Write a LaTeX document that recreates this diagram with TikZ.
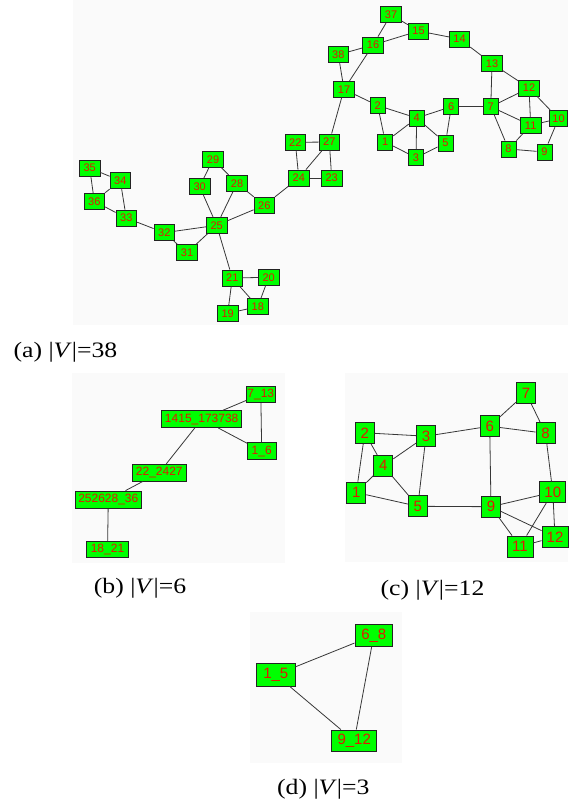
\documentclass[tikz,border=0pt]{standalone}
\usepackage{fontspec}
\usepackage{graphicx}
\setmainfont{Liberation Serif}
\newfontfamily\lsans{Liberation Sans}
\definecolor{ngreen}{RGB}{0,255,0}
\definecolor{nred}{RGB}{225,25,0}
\definecolor{nborder}{RGB}{35,35,35}
\definecolor{edgec}{RGB}{55,55,55}
\definecolor{panelbg}{RGB}{250,250,250}
\tikzset{
  gnode/.style={draw=nborder, fill=ngreen, text=nred, inner sep=0pt, line width=0.9pt},
  an/.style={gnode, minimum width=20.5, minimum height=16, font=\lsans\fontsize{11}{11}\selectfont},
  ans/.style={an, minimum width=15},
  bn/.style={gnode, minimum height=16.7, font=\lsans\fontsize{12}{12}\selectfont},
  cn/.style={gnode, minimum width=19, minimum height=21, font=\lsans\fontsize{15}{15}\selectfont},
  cnd/.style={cn, minimum width=26},
  dn/.style={gnode, minimum height=22.5, font=\lsans\fontsize{15}{15}\selectfont},
  edge/.style={draw=edgec, line width=0.8pt},
  captext/.style={inner sep=0pt, font=\fontsize{22}{22}\selectfont},
  panel/.style={fill=panelbg}
}
\newcommand{\capt}[1]{\scalebox{1.17}[1]{#1}}
\begin{document}
\begin{tikzpicture}[x=1pt,y=-1pt]
\useasboundingbox (0,0) rectangle (568,800);
% panel backgrounds
\fill[panel] (73,0) rectangle (568,325);
\fill[panel] (72,373) rectangle (285,563);
\fill[panel] (345,373) rectangle (568,562);
\fill[panel] (250,612) rectangle (402,763);

% ---------- panel (a) ----------
\node[an]  (a37) at (391,14.7) {37};
\node[an]  (a15) at (418.5,31) {15};
\node[an]  (a14) at (459.5,39) {14};
\node[an]  (a16) at (373,45) {16};
\node[an]  (a38) at (338.3,54.7) {38};
\node[an]  (a13) at (492,63.5) {13};
\node[an]  (a17) at (344,89.3) {17};
\node[an]  (a12) at (529,88) {12};
\node[ans] (a2)  at (377.7,105.5) {2};
\node[ans] (a6)  at (451.3,106.7) {6};
\node[ans] (a7)  at (490.8,106.7) {7};
\node[ans] (a4)  at (416.7,118) {4};
\node[an, minimum width=18.5] (a10) at (558.5,118.7) {10};
\node[an]  (a11) at (530.7,125.3) {11};
\node[ans] (a1)  at (385.3,142) {1};
\node[ans] (a5)  at (445.5,143) {5};
\node[ans] (a3)  at (416,157.7) {3};
\node[ans] (a8)  at (508.5,149) {8};
\node[ans] (a9)  at (544.5,152) {9};
\node[an]  (a27) at (329.3,142) {27};
\node[an]  (a22) at (295.3,142.3) {22};
\node[an]  (a24) at (298.8,178) {24};
\node[an]  (a23) at (331.7,178) {23};
\node[an]  (a29) at (213,159.3) {29};
\node[an]  (a35) at (89.7,168) {35};
\node[an]  (a34) at (120.3,180.7) {34};
\node[an]  (a30) at (199.7,186.7) {30};
\node[an]  (a28) at (237,183.3) {28};
\node[an]  (a36) at (94.3,201.3) {36};
\node[an]  (a26) at (264.3,205.3) {26};
\node[an]  (a33) at (126.3,218) {33};
\node[an]  (a25) at (216.7,225.3) {25};
\node[an]  (a32) at (164.3,232.7) {32};
\node[an]  (a31) at (187,252.7) {31};
\node[an]  (a21) at (232.3,278) {21};
\node[an]  (a20) at (268.7,277.3) {20};
\node[an]  (a18) at (257.8,306.7) {18};
\node[an]  (a19) at (227.7,313.3) {19};

\foreach \u/\v in {37/16,37/15,15/16,15/14,16/38,16/17,38/17,14/13,13/7,13/12,
  12/7,12/11,12/10,7/11,7/8,7/6,11/10,11/8,10/9,8/9,17/2,17/27,2/4,2/1,4/6,
  4/1,4/3,4/5,6/5,1/3,3/5,22/27,22/24,27/24,27/23,24/23,24/26,26/28,26/25,
  28/29,28/25,29/30,30/25,25/32,25/31,25/21,32/31,32/33,33/36,33/34,34/36,
  35/34,35/36,21/20,21/19,21/18,20/18,19/18}
  \draw[edge] (a\u) -- (a\v);

\node[captext, anchor=base west] (capa) at (13.3,357.7) {\capt{(a) |\textit{V}|=38}};

% ---------- panel (b) ----------
\node[bn, minimum width=28.3] (b713) at (260.8,394.3) {7\_13};
\node[bn, minimum width=80]   (b1415) at (201.7,419.2) {1415\_173738};
\node[bn, minimum width=28.7] (b16) at (261.7,451) {1\_6};
\node[bn, minimum width=53.3] (b22) at (159.3,472.7) {22\_2427};
\node[bn, minimum width=66.7, minimum height=17.3] (b25) at (108.3,499.7) {252628\_36};
\node[bn, minimum width=41.7] (b18) at (107.5,549.3) {18\_21};
\draw[edge] (b713) -- (b1415);
\draw[edge] (b1415) -- (b16);
\draw[edge] (b713) -- (b16);
\draw[edge] (b1415) -- (b22);
\draw[edge] (b22) -- (b25);
\draw[edge] (b25) -- (b18);
\node[captext, anchor=base] (capb) at (140,593.3) {\capt{(b) |\textit{V}|=6}};

% ---------- panel (c) ----------
\node[cn]  (c7)  at (526,393) {7};
\node[cn]  (c6)  at (489.7,426.2) {6};
\node[cn]  (c8)  at (545.5,433.3) {8};
\node[cn]  (c2)  at (364.8,432.8) {2};
\node[cn]  (c3)  at (426,436.2) {3};
\node[cn]  (c4)  at (383.3,465.8) {4};
\node[cn]  (c1)  at (356.3,492.5) {1};
\node[cn]  (c5)  at (417.8,506.3) {5};
\node[cn]  (c9)  at (491,506.7) {9};
\node[cnd] (c10) at (552.8,492.2) {10};
\node[cnd] (c12) at (555,537) {12};
\node[cnd] (c11) at (520,546.5) {11};
\foreach \u/\v in {2/3,2/4,2/1,1/4,1/5,4/3,4/5,3/5,3/6,6/7,6/8,7/8,6/9,5/9,
  8/10,9/10,9/12,9/11,10/12,10/11,11/12}
  \draw[edge] (c\u) -- (c\v);
\node[captext, anchor=base] (capc) at (432.5,595) {\capt{(c) |\textit{V}|=12}};

% ---------- panel (d) ----------
\node[dn, minimum width=37.7] (d68)  at (373.8,635.3) {6\_8};
\node[dn, minimum width=38.3] (d15)  at (275.8,674.7) {1\_5};
\node[dn, minimum width=45, minimum height=21.7] (d912) at (354.2,740.8) {9\_12};
\draw[edge] (d15) -- (d68);
\draw[edge] (d15) -- (d912);
\draw[edge] (d68) -- (d912);
\node[captext, anchor=base] (capd) at (323.3,794) {\capt{(d) |\textit{V}|=3}};
\end{tikzpicture}
\end{document}
